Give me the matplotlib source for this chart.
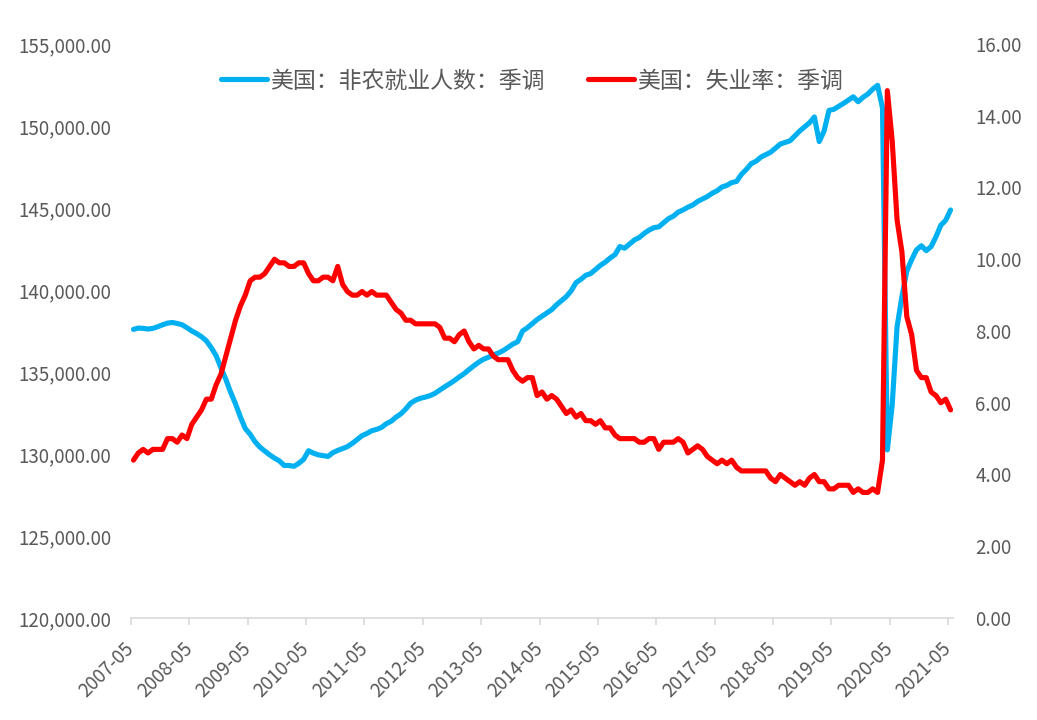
import matplotlib
matplotlib.use("Agg")
import matplotlib.pyplot as plt
import matplotlib.ticker as mticker
import pandas as pd

plt.rcParams['font.family'] = ['Noto Sans CJK SC', 'DejaVu Sans']

# Categories: monthly 2007-05 .. 2021-05
months = pd.period_range("2007-05", "2021-05", freq="M").strftime("%Y-%m").tolist()

# 美国：非农就业人数：季调 (thousands)
payrolls = [
    # 2007-05 .. 2007-12
    137600, 137680, 137660, 137620, 137660, 137760, 137880, 137980,
    # 2008
    138020, 137960, 137880, 137700, 137500, 137340, 137150, 136900, 136480, 136000, 135250, 134550,
    # 2009
    133750, 133050, 132250, 131550, 131200, 130750, 130420, 130180, 129950, 129750, 129580, 129300,
    # 2010
    129300, 129250, 129430, 129680, 130200, 130050, 129950, 129900, 129850, 130080, 130220, 130330,
    # 2011
    130450, 130650, 130880, 131120, 131250, 131420, 131500, 131620, 131850, 132000, 132250, 132450,
    # 2012
    132750, 133100, 133280, 133400, 133470, 133560, 133700, 133900, 134100, 134280, 134480, 134700,
    # 2013
    134900, 135150, 135380, 135600, 135780, 135900, 136050, 136150, 136300, 136500, 136700, 136850,
    # 2014
    137500, 137700, 137950, 138200, 138400, 138600, 138800, 139100, 139350, 139600, 139950, 140450,
    # 2015
    140650, 140900, 141000, 141250, 141500, 141700, 141950, 142150, 142650, 142550, 142800, 143050,
    # 2016
    143200, 143450, 143650, 143800, 143850, 144100, 144350, 144500, 144750, 144880, 145050, 145180,
    # 2017
    145400, 145550, 145700, 145900, 146050, 146280, 146380, 146550, 146620, 147050, 147350, 147700,
    # 2018
    147850, 148100, 148250, 148400, 148650, 148900, 149000, 149100, 149400, 149700, 149950, 150200,
    # 2019
    150550, 149050, 149700, 150950, 151020, 151200, 151380, 151580, 151780, 151480, 151750, 151950,
    # 2020
    152250, 152480, 151100, 130250, 133000, 137760, 139600, 141150, 141850, 142450, 142700, 142400,
    # 2021-01 .. 2021-05
    142650, 143250, 143950, 144250, 144880,
]

# 美国：失业率：季调 (%)
unemployment = [
    4.4, 4.6, 4.7, 4.6, 4.7, 4.7, 4.7, 5.0,
    5.0, 4.9, 5.1, 5.0, 5.4, 5.6, 5.8, 6.1, 6.1, 6.5, 6.8, 7.3,
    7.8, 8.3, 8.7, 9.0, 9.4, 9.5, 9.5, 9.6, 9.8, 10.0, 9.9, 9.9,
    9.8, 9.8, 9.9, 9.9, 9.6, 9.4, 9.4, 9.5, 9.5, 9.4, 9.8, 9.3,
    9.1, 9.0, 9.0, 9.1, 9.0, 9.1, 9.0, 9.0, 9.0, 8.8, 8.6, 8.5,
    8.3, 8.3, 8.2, 8.2, 8.2, 8.2, 8.2, 8.1, 7.8, 7.8, 7.7, 7.9,
    8.0, 7.7, 7.5, 7.6, 7.5, 7.5, 7.3, 7.2, 7.2, 7.2, 6.9, 6.7,
    6.6, 6.7, 6.7, 6.2, 6.3, 6.1, 6.2, 6.1, 5.9, 5.7, 5.8, 5.6,
    5.7, 5.5, 5.5, 5.4, 5.5, 5.3, 5.3, 5.1, 5.0, 5.0, 5.0, 5.0,
    4.9, 4.9, 5.0, 5.0, 4.7, 4.9, 4.9, 4.9, 5.0, 4.9, 4.6, 4.7,
    4.8, 4.7, 4.5, 4.4, 4.3, 4.4, 4.3, 4.4, 4.2, 4.1, 4.1, 4.1,
    4.1, 4.1, 4.1, 3.9, 3.8, 4.0, 3.9, 3.8, 3.7, 3.8, 3.7, 3.9,
    4.0, 3.8, 3.8, 3.6, 3.6, 3.7, 3.7, 3.7, 3.5, 3.6, 3.5, 3.5,
    3.6, 3.5, 4.4, 14.7, 13.3, 11.1, 10.2, 8.4, 7.9, 6.9, 6.7, 6.7,
    6.3, 6.2, 6.0, 6.1, 5.8,
]

series_names = ["美国：非农就业人数：季调", "美国：失业率：季调"]
left_ticks = [120000, 125000, 130000, 135000, 140000, 145000, 150000, 155000]
right_ticks = [0, 2, 4, 6, 8, 10, 12, 14, 16]

BLUE = "#00B0F0"
RED = "#FF0000"
TXT = "#595959"
AXC = "#D9D9D9"

W, H = 1037, 720
fig = plt.figure(figsize=(W / 100, H / 100), dpi=100)
ax = fig.add_axes([131 / W, 1 - 618 / H, (953 - 131) / W, (618 - 44) / H])
ax2 = ax.twinx()

x = list(range(len(months)))
l1, = ax.plot(x, payrolls, color=BLUE, lw=3.7, solid_joinstyle="round", solid_capstyle="round")
l2, = ax2.plot(x, unemployment, color=RED, lw=3.7, solid_joinstyle="round", solid_capstyle="round")

ax.set_xlim(-0.5, len(months) - 0.5)
ax.set_ylim(left_ticks[0], left_ticks[-1])
ax2.set_ylim(right_ticks[0], right_ticks[-1])
ax.set_yticks(left_ticks)
ax2.set_yticks(right_ticks)
ax.yaxis.set_major_formatter(mticker.FuncFormatter(lambda v, p: f"{v:,.2f}"))
ax2.yaxis.set_major_formatter(mticker.FuncFormatter(lambda v, p: f"{v:.2f}"))

tick_idx = list(range(0, len(months), 12))
ax.set_xticks([i - 0.5 for i in tick_idx])
ax.set_xticklabels([months[i] for i in tick_idx], rotation=45, ha="right",
                   va="center", rotation_mode="anchor")

for a in (ax, ax2):
    for s in ("top", "left", "right", "bottom"):
        a.spines[s].set_visible(False)
ax.spines["bottom"].set_visible(True)
ax.spines["bottom"].set_color(AXC)
ax.spines["bottom"].set_linewidth(1.2)

ax.tick_params(axis="x", colors=AXC, length=5, width=1.2, pad=15, labelsize=13.5,
               labelcolor=TXT)
ax.tick_params(axis="y", length=0, pad=14, labelsize=13.5, labelcolor=TXT)
ax2.tick_params(axis="y", length=0, pad=16, labelsize=13.5, labelcolor=TXT)

fig.legend([l1, l2], series_names, loc="center", bbox_to_anchor=(532 / W, 1 - 81 / H),
           ncol=2, frameon=False, fontsize=16.5, labelcolor=TXT, handlelength=2.0,
           handletextpad=0.15, columnspacing=1.9)

fig.savefig("out.png", dpi=100)
